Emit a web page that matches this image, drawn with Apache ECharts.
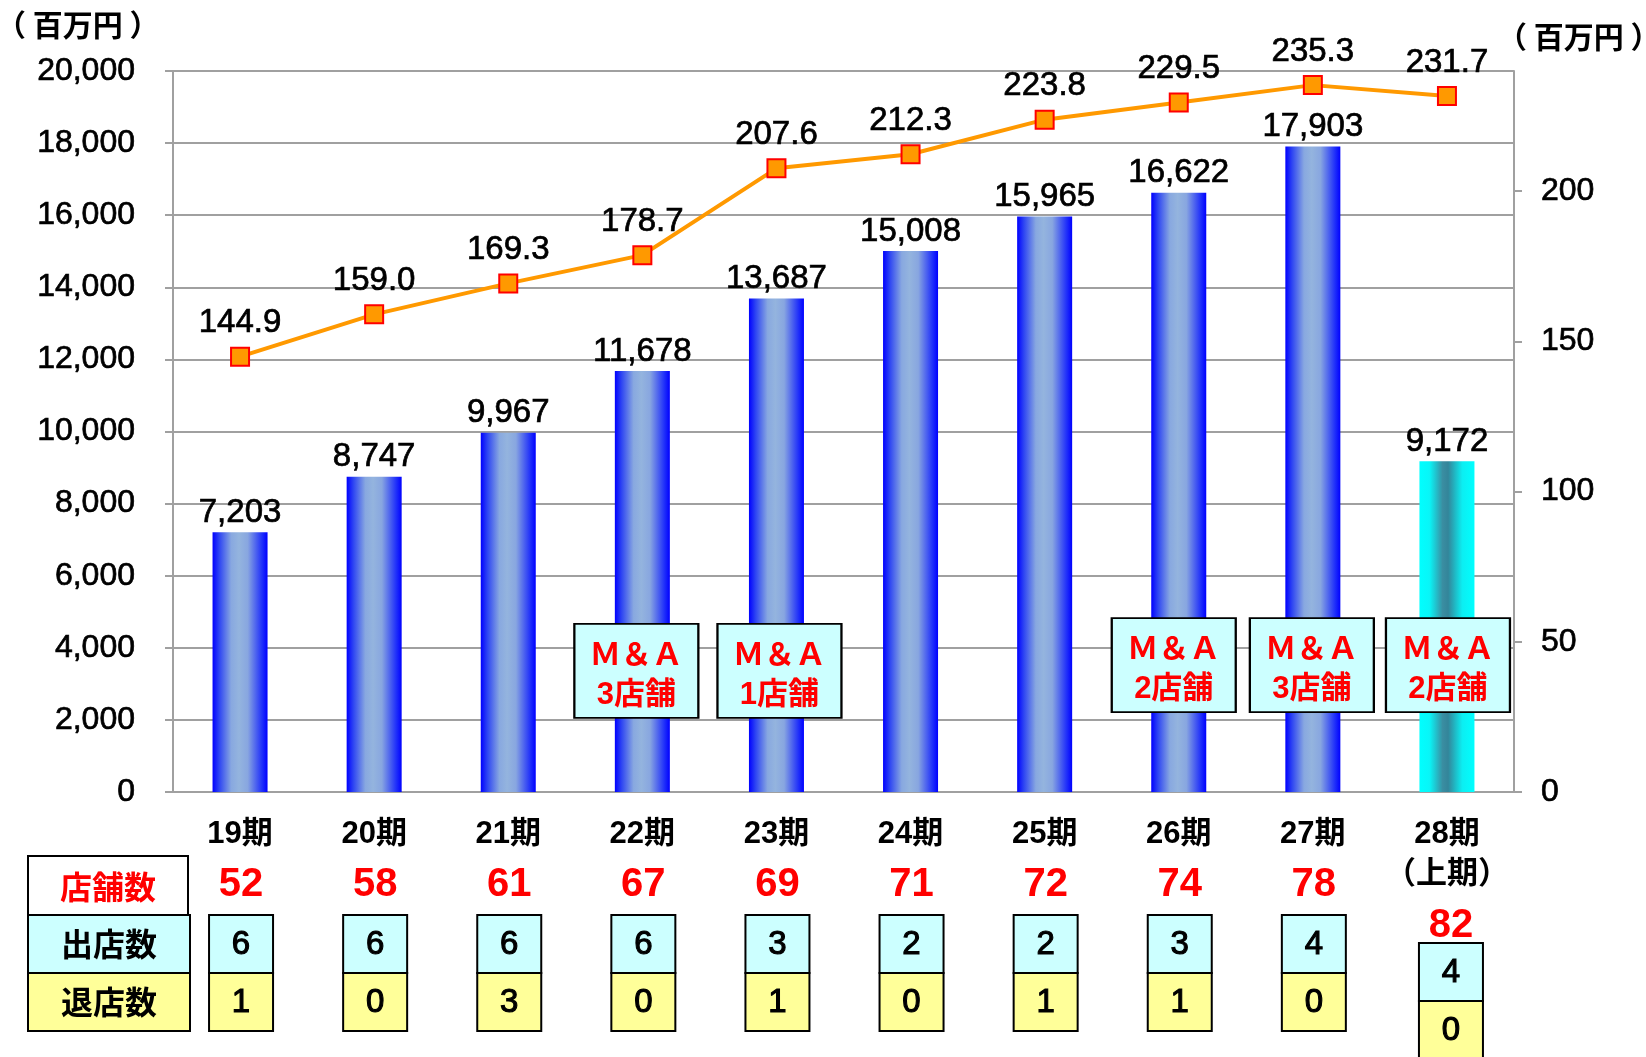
<!DOCTYPE html>
<html>
<head>
<meta charset="utf-8">
<script src="https://cdn.jsdelivr.net/npm/echarts@6/dist/echarts.min.js"></script>
<style>
  html, body { margin: 0; padding: 0; background: #fff; }
  #main { width: 1646px; height: 1057px; }
</style>
</head>
<body>
<div id="main"></div>
<script>
"use strict"
// data
var categories = ['19期', '20期', '21期', '22期', '23期', '24期', '25期', '26期', '27期', '28期\n（上期）'];
var sales = [7203, 8747, 9967, 11678, 13687, 15008, 15965, 16622, 17903, 9172];
var perStore = [144.9, 159.0, 169.3, 178.7, 207.6, 212.3, 223.8, 229.5, 235.3, 231.7];
var storeCount = [52, 58, 61, 67, 69, 71, 72, 74, 78, 82];
var openedStores = [6, 6, 6, 6, 3, 2, 2, 3, 4, 4];
var closedStores = [1, 0, 3, 0, 1, 0, 1, 1, 0, 0];
var maStores = [null, null, null, 3, 1, null, null, 2, 3, 2];
var leftTicks = [0, 20000, 2000];
var rightTicks = [0, 240, 50];

var FONT = "'Liberation Sans', 'Noto Sans CJK JP', sans-serif";
var CJK = "'Noto Sans CJK JP', sans-serif";
var GRAY = '#a0a0a0';
// the source font is a little heavier than regular, thicken with a thin outline
var heavy = {textBorderColor: '#000', textBorderWidth: 0.7};

function comma(v) {
  return String(v).replace(/\B(?=(\d{3})+(?!\d))/g, ',');
}
function numLabel(size, extra) {
  var o = {fontSize: size, color: '#000', fontFamily: FONT,
    textBorderColor: heavy.textBorderColor, textBorderWidth: heavy.textBorderWidth};
  for (var k in extra) o[k] = extra[k];
  return o;
}

var blueBar = new echarts.graphic.LinearGradient(0, 0, 1, 0, [
  {offset: 0, color: '#0000ff'},
  {offset: 0.12, color: '#2d44f3'},
  {offset: 0.34, color: '#88a8e0'},
  {offset: 0.48, color: '#94b4de'},
  {offset: 0.64, color: '#88a6e0'},
  {offset: 0.9, color: '#2030fa'},
  {offset: 1, color: '#0000ff'}
]);
var cyanBar = new echarts.graphic.LinearGradient(0, 0, 1, 0, [
  {offset: 0, color: '#00ffff'},
  {offset: 0.18, color: '#08f6f8'},
  {offset: 0.42, color: '#3a8ea2'},
  {offset: 0.52, color: '#33859a'},
  {offset: 0.78, color: '#0ceef2'},
  {offset: 1, color: '#00ffff'}
]);

var barData = [];
for (var i = 0; i < sales.length; i++) {
  barData.push({
    value: sales[i],
    itemStyle: {color: i === sales.length - 1 ? cyanBar : blueBar}
  });
}

// callout boxes sit a bit off-centre in the source
var maShiftX = [0, 0, 0, -6, 3, 0, 0, -5, -1, 1];
var maData = [];
for (var i = 0; i < maStores.length; i++) {
  if (maStores[i] == null) continue;
  maData.push({
    value: [categories[i], i >= 7 ? 3520 : 3360],
    n: maStores[i],
    symbolOffset: [maShiftX[i], 0]
  });
}

var chart = echarts.init(document.getElementById('main'));
var option = {
  animation: false,
  backgroundColor: '#fff',
  textStyle: {fontFamily: FONT},
  grid: {left: 173, right: 132, top: 71, bottom: 265},
  xAxis: {
    type: 'category',
    data: categories,
    axisLine: {lineStyle: {color: GRAY, width: 2}},
    axisTick: {length: 8, lineStyle: {color: GRAY, width: 2}},
    axisLabel: {
      margin: 22, fontSize: 31, fontWeight: 'bold', color: '#000',
      lineHeight: 40, fontFamily: FONT, interval: 0
    }
  },
  yAxis: [{
    type: 'value',
    min: leftTicks[0], max: leftTicks[1], interval: leftTicks[2],
    axisLine: {show: true, lineStyle: {color: GRAY, width: 2}},
    axisTick: {show: true, length: 8, lineStyle: {color: GRAY, width: 2}},
    splitLine: {lineStyle: {color: GRAY, width: 2}},
    axisLabel: numLabel(32, {
      margin: 38,
      formatter: function(v) { return comma(v); }
    })
  }, {
    type: 'value',
    position: 'right',
    min: rightTicks[0], max: rightTicks[1], interval: rightTicks[2],
    axisLine: {show: true, lineStyle: {color: GRAY, width: 2}},
    axisTick: {show: true, length: 8, lineStyle: {color: GRAY, width: 2}},
    splitLine: {show: false},
    axisLabel: numLabel(32, {margin: 27, showMaxLabel: false})
  }],
  graphic: [{
    type: 'text', left: -4, top: 10,
    style: {text: '（ 百万円 ）', font: 'bold 30px ' + CJK, fill: '#000'}
  }, {
    type: 'text', left: 1497, top: 22,
    style: {text: '（ 百万円 ）', font: 'bold 30px ' + CJK, fill: '#000'}
  }],
  series: [{
    type: 'bar',
    data: barData,
    barWidth: 55,
    z: 2,
    label: numLabel(33, {
      show: true, position: 'top', distance: 3,
      formatter: function(p) { return comma(p.value); }
    })
  }, {
    type: 'line',
    yAxisIndex: 1,
    data: perStore,
    z: 4,
    symbol: 'rect',
    symbolSize: 18,
    lineStyle: {color: '#ff9900', width: 4},
    itemStyle: {color: '#ff9900', borderColor: '#ff0000', borderWidth: 2},
    label: numLabel(33, {
      show: true, position: 'top', distance: 7,
      formatter: function(p) { return p.value.toFixed(1); }
    })
  }, {
    type: 'scatter',
    data: maData,
    z: 5,
    symbol: 'rect',
    symbolSize: [124, 94],
    itemStyle: {color: '#ccffff', borderColor: '#000', borderWidth: 2, opacity: 1},
    label: {
      show: true, position: 'inside', offset: [0, 5],
      fontSize: 31, fontWeight: 'bold', color: '#ff0000', fontFamily: FONT,
      lineHeight: 39,
      formatter: function(p) { return 'Ｍ＆Ａ\n' + p.data.n + '店舗'; }
    }
  }]
};
chart.setOption(option);

// table under the x axis
var g = [];
function box(x, y, w, h, fill) {
  g.push({type: 'rect', shape: {x: x, y: y, width: w, height: h},
    style: {fill: fill, stroke: '#000', lineWidth: 2}, z: 10});
}
function txt(x, y, s, font, color, stroke) {
  g.push({type: 'text', x: x, y: y, z: 11,
    style: {text: s, font: font, fill: color, align: 'center', verticalAlign: 'middle',
      stroke: stroke ? color : null, lineWidth: stroke || 0}});
}

box(28, 856, 160, 59, '#ffffff');
txt(108, 887, '店舗数', 'bold 32px ' + CJK, '#ff0000');
box(28, 915, 162, 58, '#ccffff');
txt(109, 944, '出店数', 'bold 32px ' + CJK, '#000');
box(28, 973, 162, 58, '#ffff99');
txt(109, 1002, '退店数', 'bold 32px ' + CJK, '#000');

for (var i = 0; i < categories.length; i++) {
  var cx = chart.convertToPixel({xAxisIndex: 0}, categories[i]);
  var twoLine = categories[i].indexOf('\n') >= 0;
  var countY = twoLine ? 926 : 885;
  var boxTop = twoLine ? 943 : 915;
  var bx = twoLine ? cx + 4 : cx + 1;
  txt(bx, countY, String(storeCount[i]), 'bold 40px ' + FONT, '#ff0000');
  box(bx - 32, boxTop, 64, 58, '#ccffff');
  txt(bx, boxTop + 30, String(openedStores[i]), '33px ' + FONT, '#000', 1.1);
  box(bx - 32, boxTop + 58, 64, 58, '#ffff99');
  txt(bx, boxTop + 88, String(closedStores[i]), '33px ' + FONT, '#000', 1.1);
}

chart.setOption({graphic: option.graphic.concat(g)});
</script>
</body>
</html>
